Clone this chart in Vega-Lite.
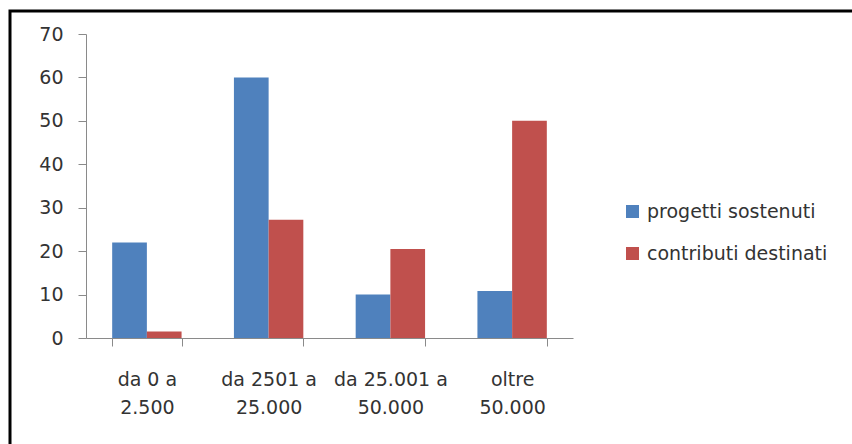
{
  "$schema": "https://vega.github.io/schema/vega-lite/v6.json",
  "width": 846,
  "height": 437,
  "autosize": {"type": "none"},
  "padding": {"left": 10, "top": 11, "right": 0, "bottom": 0},
  "background": "white",
  "config": {
    "view": {"stroke": "black", "strokeWidth": 3},
    "font": "DejaVu Sans",
    "axis": {"grid": false}
  },
  "data": {
    "values": [
      {"category": "da 0 a\n2.500", "series": "progetti sostenuti", "value": 22},
      {"category": "da 0 a\n2.500", "series": "contributi destinati", "value": 1.5},
      {"category": "da 2501 a\n25.000", "series": "progetti sostenuti", "value": 60},
      {"category": "da 2501 a\n25.000", "series": "contributi destinati", "value": 27.2},
      {"category": "da 25.001 a\n50.000", "series": "progetti sostenuti", "value": 10},
      {"category": "da 25.001 a\n50.000", "series": "contributi destinati", "value": 20.5},
      {"category": "oltre\n50.000", "series": "progetti sostenuti", "value": 10.8},
      {"category": "oltre\n50.000", "series": "contributi destinati", "value": 50}
    ]
  },
  "mark": {"type": "bar"},
  "encoding": {
    "x": {
      "field": "category",
      "type": "nominal",
      "sort": null,
      "scale": {"range": [76, 563], "paddingInner": 0.43, "paddingOuter": 0.215},
      "axis": {
        "title": null,
        "offset": -110,
        "labelAngle": 0,
        "labelExpr": "isString(datum.value) ? split(datum.value, '\\n') : ''",
        "labelFontSize": 19,
        "labelColor": "#333333",
        "labelLineHeight": 28,
        "labelPadding": 24,
        "tickBand": "extent",
        "tickSize": 8,
        "tickColor": "#8a8a8a",
        "domainColor": "#8a8a8a",
        "labelBaseline": "top"
      }
    },
    "xOffset": {"field": "series", "sort": null, "scale": {"paddingInner": 0}},
    "y": {
      "field": "value",
      "type": "quantitative",
      "scale": {"domain": [0, 70], "range": [327, 23], "nice": false, "zero": true},
      "axis": {
        "title": null,
        "offset": -76,
        "values": [0, 10, 20, 30, 40, 50, 60, 70],
        "labelFontSize": 19,
        "labelColor": "#333333",
        "labelPadding": 15,
        "tickSize": 8,
        "tickColor": "#8a8a8a",
        "domainColor": "#8a8a8a"
      }
    },
    "color": {
      "field": "series",
      "type": "nominal",
      "sort": null,
      "scale": {"domain": ["progetti sostenuti", "contributi destinati"], "range": ["#4F81BD", "#C0504D"]},
      "legend": {
        "title": null,
        "orient": "none",
        "legendX": 613,
        "legendY": 191,
        "symbolType": "square",
        "symbolSize": 169,
        "symbolStrokeWidth": 0,
        "labelFontSize": 19,
        "labelColor": "#333333",
        "labelOffset": 5,
        "rowPadding": 22,
        "labelLimit": 400
      }
    }
  }
}
